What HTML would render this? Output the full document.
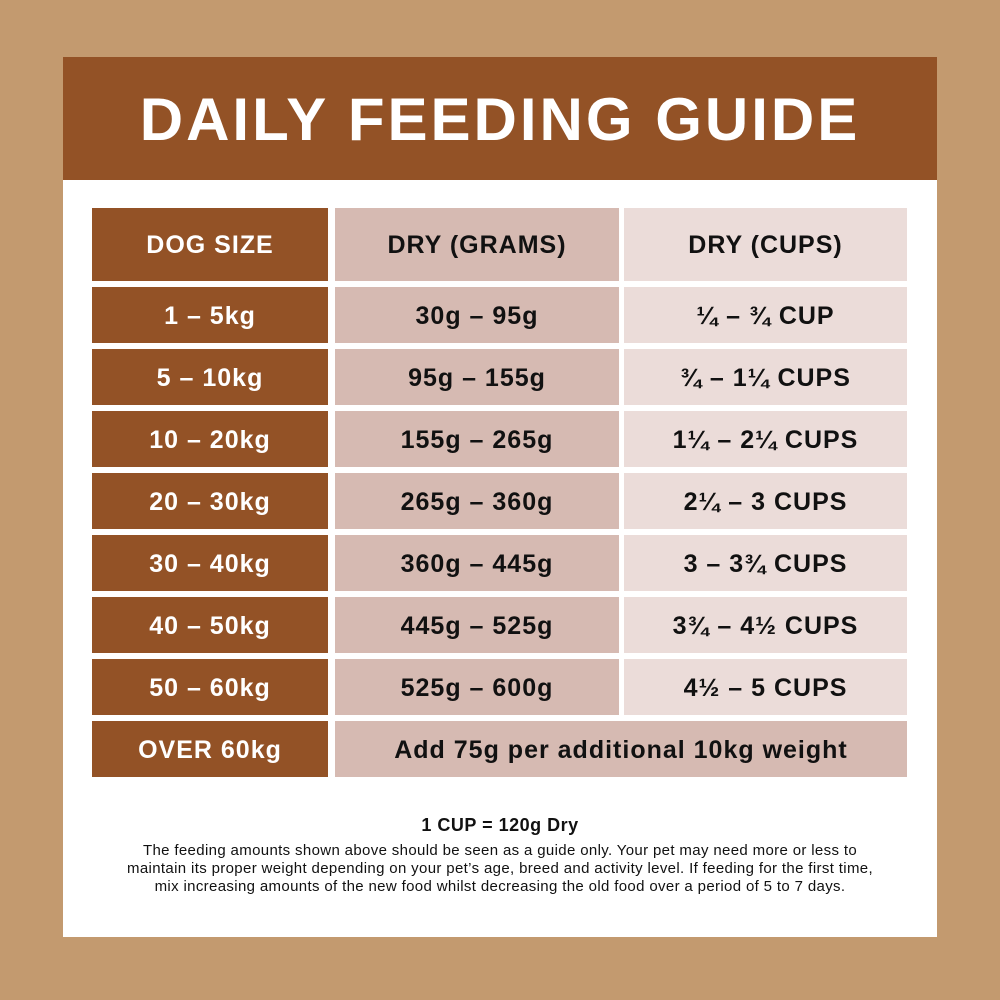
<!DOCTYPE html>
<html><head><style>
body{margin:0;width:1000px;height:1000px;background:#c39a6f;position:relative;overflow:hidden;font-family:"Liberation Sans",sans-serif}
.p{position:absolute;left:63px;top:57px;width:874px;height:880px;background:#fff}
.h{position:absolute;left:63px;top:57px;width:874px;height:123px;background:#935226;color:#fff;font-weight:bold;font-size:60px;text-align:center;line-height:125px;letter-spacing:3px}
.c{position:absolute;display:flex;align-items:center;justify-content:center;font-weight:bold;font-size:25px;letter-spacing:1px;color:#111;padding-top:2px;box-sizing:border-box}
.a{background:#935226;color:#fff;left:92px;width:236px}
.b{background:#d6bab2;left:335px;width:284px}
.d{background:#ebdcd9;left:624px;width:283px}
.f{position:absolute;left:63px;width:874px;text-align:center;color:#111}
</style></head><body>
<div class="p"></div>
<div class="h">DAILY FEEDING GUIDE</div>
<div class="c a" style="top:208px;height:73px">DOG SIZE</div>
<div class="c b" style="top:208px;height:73px">DRY (GRAMS)</div>
<div class="c d" style="top:208px;height:73px">DRY (CUPS)</div>
<div class="c a" style="top:287px;height:56px">1 – 5kg</div><div class="c b" style="top:287px;height:56px">30g – 95g</div><div class="c d" style="top:287px;height:56px">¼ – ¾ CUP</div>
<div class="c a" style="top:349px;height:56px">5 – 10kg</div><div class="c b" style="top:349px;height:56px">95g – 155g</div><div class="c d" style="top:349px;height:56px">¾ – 1¼ CUPS</div>
<div class="c a" style="top:411px;height:56px">10 – 20kg</div><div class="c b" style="top:411px;height:56px">155g – 265g</div><div class="c d" style="top:411px;height:56px">1¼ – 2¼ CUPS</div>
<div class="c a" style="top:473px;height:56px">20 – 30kg</div><div class="c b" style="top:473px;height:56px">265g – 360g</div><div class="c d" style="top:473px;height:56px">2¼ – 3 CUPS</div>
<div class="c a" style="top:535px;height:56px">30 – 40kg</div><div class="c b" style="top:535px;height:56px">360g – 445g</div><div class="c d" style="top:535px;height:56px">3 – 3¾ CUPS</div>
<div class="c a" style="top:597px;height:56px">40 – 50kg</div><div class="c b" style="top:597px;height:56px">445g – 525g</div><div class="c d" style="top:597px;height:56px">3¾ – 4½ CUPS</div>
<div class="c a" style="top:659px;height:56px">50 – 60kg</div><div class="c b" style="top:659px;height:56px">525g – 600g</div><div class="c d" style="top:659px;height:56px">4½ – 5 CUPS</div>
<div class="c a" style="top:721px;height:56px">OVER 60kg</div><div class="c b" style="top:721px;height:56px;width:572px">Add 75g per additional 10kg weight</div>
<div class="f" style="top:815px;font-size:18px;font-weight:bold;letter-spacing:0.5px">1 CUP = 120g Dry</div>
<div class="f" style="top:842px;font-size:15px;line-height:18px;letter-spacing:0.35px">The feeding amounts shown above should be seen as a guide only. Your pet may need more or less to<br>maintain its proper weight depending on your pet’s age, breed and activity level. If feeding for the first time,<br>mix increasing amounts of the new food whilst decreasing the old food over a period of 5 to 7 days.</div>
</body></html>
